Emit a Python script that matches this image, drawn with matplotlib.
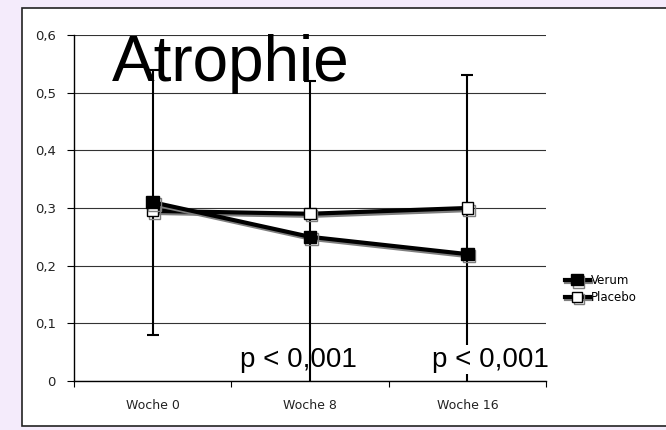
import matplotlib
matplotlib.use("Agg")
import matplotlib.pyplot as plt
import matplotlib.patheffects as pe
from matplotlib.patches import Rectangle

weeks = ['Woche 0', 'Woche 8', 'Woche 16']
verum = [0.31, 0.25, 0.22]
placebo = [0.295, 0.29, 0.30]
verum_err = [0.23, 0.27, 0.31]
yticks = [0, 0.1, 0.2, 0.3, 0.4, 0.5, 0.6]
ytick_labels = ['0', '0,1', '0,2', '0,3', '0,4', '0,5', '0,6']
p_labels = ['p < 0,001', 'p < 0,001']

plt.rcParams['font.family'] = ['Liberation Sans', 'DejaVu Sans']

fig = plt.figure(figsize=(6.66, 4.30), dpi=100, facecolor='#f4ebfb')
# white chart frame
fig.patches.append(Rectangle((22 / 666, 1 - 426 / 430), 1.0, (426 - 8) / 430,
                             transform=fig.transFigure, facecolor='white',
                             edgecolor='#222222', linewidth=1.2, zorder=-1))

ax = fig.add_axes([74 / 666, 1 - 381 / 430, (546 - 74) / 666, (381 - 35) / 430])
ax.set_zorder(1)
ax.set_facecolor('none')
x = list(range(len(weeks)))

shadow = [pe.SimpleLineShadow(offset=(1.2, -1.5), shadow_color='#7f7f7f', alpha=1.0), pe.Normal()]

ax.errorbar(x, verum, yerr=verum_err, fmt='none', ecolor='black', elinewidth=1.5,
            capsize=4.5, capthick=1.5, zorder=2)
ax.plot(x, placebo, '-s', color='black', lw=3, markersize=8, markerfacecolor='white',
        markeredgecolor='black', markeredgewidth=1, label='Placebo',
        path_effects=shadow, zorder=3)
ax.plot(x, verum, '-s', color='black', lw=3, markersize=9, markerfacecolor='black',
        label='Verum', path_effects=shadow, zorder=4)

ax.set_xlim(-0.5, 2.5)
ax.set_ylim(0, 0.6)
ax.set_yticks(yticks)
ax.set_yticklabels(ytick_labels, fontsize=9.5, family='DejaVu Sans', color='#222222')
ax.yaxis.grid(True, color='#333333', lw=0.8)
ax.set_axisbelow(True)
ax.set_xticks([-0.5, 0.5, 1.5, 2.5])
ax.set_xticklabels([])
ax.set_xticks(x, minor=True)
ax.set_xticklabels(weeks, minor=True, fontsize=9, family='DejaVu Sans', color='#222222')
ax.tick_params(axis='x', which='minor', length=0, pad=13)
ax.tick_params(axis='x', which='major', length=4, direction='out')
ax.tick_params(axis='y', length=5, direction='out', pad=8)
for s in ['top', 'right']:
    ax.spines[s].set_visible(False)
for s in ['left', 'bottom']:
    ax.spines[s].set_color('black')
    ax.spines[s].set_linewidth(1)
ax.spines['bottom'].set_zorder(6)

fig.text(112 / 666, 1 - 81 / 430, 'Atrophie', fontsize=46, va='baseline', ha='left', zorder=5)
ax.text(0.555, 0.025, p_labels[0], fontsize=20, ha='left', va='baseline', zorder=5)
ax.text(1.776, 0.025, p_labels[1], fontsize=20, ha='left', va='baseline', zorder=5,
        bbox=dict(facecolor='white', edgecolor='none', pad=1))

h, l = ax.get_legend_handles_labels()
fig.legend(h[::-1], l[::-1], loc='center left', bbox_to_anchor=(560 / 666, 1 - 289 / 430),
           frameon=False, prop={'family': 'DejaVu Sans', 'size': 8.5},
           handlelength=2.1, handletextpad=0.1,
           labelspacing=0.35, borderaxespad=0, markerscale=0.9)

fig.savefig('out.png', dpi=100, facecolor=fig.get_facecolor())
